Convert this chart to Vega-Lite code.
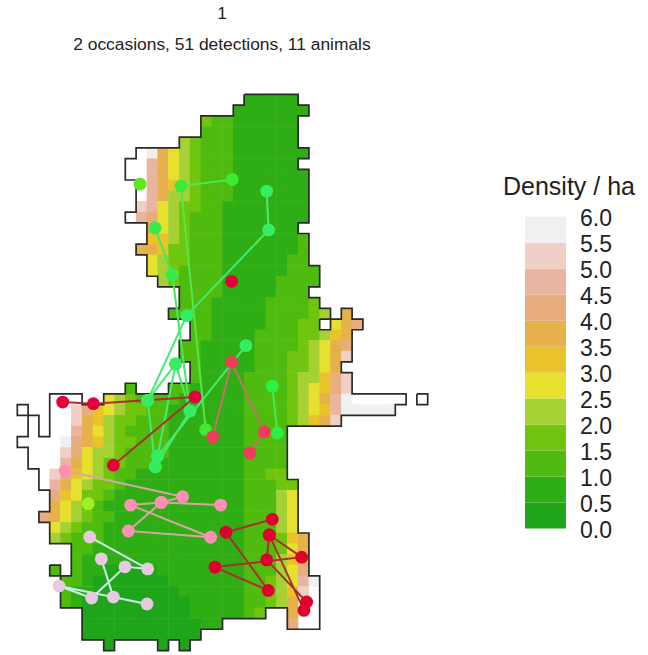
{"$schema":"https://vega.github.io/schema/vega-lite/v6.json","width":648,"height":655,"padding":0,"autosize":{"type":"fit","contains":"padding"},"background":"white","view":{"stroke":null},
"datasets":{
"cells":[
{"c":21,"r":0,"d":0.75},{"c":22,"r":0,"d":0.75},{"c":23,"r":0,"d":0.75},{"c":24,"r":0,"d":0.75},{"c":25,"r":0,"d":0.75},
{"c":20,"r":1,"d":0.75},{"c":21,"r":1,"d":0.75},{"c":22,"r":1,"d":0.75},{"c":23,"r":1,"d":0.75},{"c":24,"r":1,"d":0.75},{"c":25,"r":1,"d":0.75},{"c":26,"r":1,"d":0.75},
{"c":17,"r":2,"d":1.75},{"c":18,"r":2,"d":1.25},{"c":19,"r":2,"d":1.25},{"c":20,"r":2,"d":0.75},{"c":21,"r":2,"d":0.75},{"c":22,"r":2,"d":0.75},{"c":23,"r":2,"d":0.75},{"c":24,"r":2,"d":0.75},{"c":25,"r":2,"d":0.75},
{"c":17,"r":3,"d":1.25},{"c":18,"r":3,"d":1.25},{"c":19,"r":3,"d":1.25},{"c":20,"r":3,"d":0.75},{"c":21,"r":3,"d":0.75},{"c":22,"r":3,"d":0.75},{"c":23,"r":3,"d":0.75},{"c":24,"r":3,"d":0.75},{"c":25,"r":3,"d":0.75},
{"c":15,"r":4,"d":2.25},{"c":16,"r":4,"d":1.75},{"c":17,"r":4,"d":1.25},{"c":18,"r":4,"d":1.25},{"c":19,"r":4,"d":1.25},{"c":20,"r":4,"d":0.75},{"c":21,"r":4,"d":0.75},{"c":22,"r":4,"d":0.75},{"c":23,"r":4,"d":0.75},{"c":24,"r":4,"d":0.75},{"c":25,"r":4,"d":0.75},
{"c":12,"r":5,"d":5.75},{"c":13,"r":5,"d":3.75},{"c":14,"r":5,"d":2.75},{"c":15,"r":5,"d":2.25},{"c":16,"r":5,"d":1.75},{"c":17,"r":5,"d":1.25},{"c":18,"r":5,"d":1.25},{"c":19,"r":5,"d":1.25},{"c":20,"r":5,"d":0.75},{"c":21,"r":5,"d":0.75},{"c":22,"r":5,"d":0.75},{"c":23,"r":5,"d":0.75},{"c":24,"r":5,"d":0.75},{"c":25,"r":5,"d":0.75},{"c":26,"r":5,"d":0.75},
{"c":12,"r":6,"d":4.75},{"c":13,"r":6,"d":3.75},{"c":14,"r":6,"d":2.75},{"c":15,"r":6,"d":2.25},{"c":16,"r":6,"d":1.75},{"c":17,"r":6,"d":1.25},{"c":18,"r":6,"d":1.25},{"c":19,"r":6,"d":1.25},{"c":20,"r":6,"d":0.75},{"c":21,"r":6,"d":0.75},{"c":22,"r":6,"d":0.75},{"c":23,"r":6,"d":0.75},{"c":24,"r":6,"d":0.75},{"c":25,"r":6,"d":0.75},
{"c":12,"r":7,"d":4.75},{"c":13,"r":7,"d":3.75},{"c":14,"r":7,"d":2.75},{"c":15,"r":7,"d":2.25},{"c":16,"r":7,"d":1.75},{"c":17,"r":7,"d":1.25},{"c":18,"r":7,"d":1.25},{"c":19,"r":7,"d":1.25},{"c":20,"r":7,"d":0.75},{"c":21,"r":7,"d":0.75},{"c":22,"r":7,"d":0.75},{"c":23,"r":7,"d":0.75},{"c":24,"r":7,"d":0.75},{"c":25,"r":7,"d":0.75},{"c":26,"r":7,"d":0.75},
{"c":12,"r":8,"d":4.75},{"c":13,"r":8,"d":3.75},{"c":14,"r":8,"d":3.25},{"c":15,"r":8,"d":2.25},{"c":16,"r":8,"d":1.75},{"c":17,"r":8,"d":1.25},{"c":18,"r":8,"d":1.25},{"c":19,"r":8,"d":1.25},{"c":20,"r":8,"d":0.75},{"c":21,"r":8,"d":0.75},{"c":22,"r":8,"d":0.75},{"c":23,"r":8,"d":0.75},{"c":24,"r":8,"d":0.75},{"c":25,"r":8,"d":0.75},{"c":26,"r":8,"d":0.75},
{"c":12,"r":9,"d":4.75},{"c":13,"r":9,"d":3.75},{"c":14,"r":9,"d":2.25},{"c":15,"r":9,"d":2.25},{"c":16,"r":9,"d":1.75},{"c":17,"r":9,"d":1.25},{"c":18,"r":9,"d":1.25},{"c":19,"r":9,"d":1.25},{"c":20,"r":9,"d":0.75},{"c":21,"r":9,"d":0.75},{"c":22,"r":9,"d":0.75},{"c":23,"r":9,"d":0.75},{"c":24,"r":9,"d":0.75},{"c":25,"r":9,"d":0.75},{"c":26,"r":9,"d":0.75},
{"c":11,"r":10,"d":5.25},{"c":12,"r":10,"d":4.75},{"c":13,"r":10,"d":2.75},{"c":14,"r":10,"d":2.25},{"c":15,"r":10,"d":1.75},{"c":16,"r":10,"d":1.75},{"c":17,"r":10,"d":1.25},{"c":18,"r":10,"d":1.25},{"c":19,"r":10,"d":0.75},{"c":20,"r":10,"d":0.75},{"c":21,"r":10,"d":0.75},{"c":22,"r":10,"d":0.75},{"c":23,"r":10,"d":0.75},{"c":24,"r":10,"d":0.75},{"c":25,"r":10,"d":0.75},{"c":26,"r":10,"d":0.75},
{"c":11,"r":11,"d":4.75},{"c":12,"r":11,"d":4.25},{"c":13,"r":11,"d":2.75},{"c":14,"r":11,"d":2.25},{"c":15,"r":11,"d":1.75},{"c":16,"r":11,"d":1.25},{"c":17,"r":11,"d":1.25},{"c":18,"r":11,"d":1.25},{"c":19,"r":11,"d":0.75},{"c":20,"r":11,"d":0.75},{"c":21,"r":11,"d":0.75},{"c":22,"r":11,"d":0.75},{"c":23,"r":11,"d":0.75},{"c":24,"r":11,"d":0.75},{"c":25,"r":11,"d":0.75},{"c":26,"r":11,"d":0.75},
{"c":12,"r":12,"d":3.75},{"c":13,"r":12,"d":2.75},{"c":14,"r":12,"d":2.25},{"c":15,"r":12,"d":1.75},{"c":16,"r":12,"d":1.25},{"c":17,"r":12,"d":1.25},{"c":18,"r":12,"d":1.25},{"c":19,"r":12,"d":0.75},{"c":20,"r":12,"d":0.75},{"c":21,"r":12,"d":0.75},{"c":22,"r":12,"d":0.75},{"c":23,"r":12,"d":0.75},{"c":24,"r":12,"d":0.75},{"c":25,"r":12,"d":0.75},
{"c":12,"r":13,"d":3.25},{"c":13,"r":13,"d":3.25},{"c":14,"r":13,"d":2.25},{"c":15,"r":13,"d":1.75},{"c":16,"r":13,"d":1.25},{"c":17,"r":13,"d":1.25},{"c":18,"r":13,"d":1.25},{"c":19,"r":13,"d":0.75},{"c":20,"r":13,"d":0.75},{"c":21,"r":13,"d":0.75},{"c":22,"r":13,"d":0.75},{"c":23,"r":13,"d":0.75},{"c":24,"r":13,"d":0.75},{"c":25,"r":13,"d":0.75},{"c":26,"r":13,"d":1.25},
{"c":11,"r":14,"d":3.75},{"c":12,"r":14,"d":3.75},{"c":13,"r":14,"d":3.25},{"c":14,"r":14,"d":1.75},{"c":15,"r":14,"d":1.75},{"c":16,"r":14,"d":1.25},{"c":17,"r":14,"d":1.25},{"c":18,"r":14,"d":1.25},{"c":19,"r":14,"d":0.75},{"c":20,"r":14,"d":0.75},{"c":21,"r":14,"d":0.75},{"c":22,"r":14,"d":0.75},{"c":23,"r":14,"d":0.75},{"c":24,"r":14,"d":0.75},{"c":25,"r":14,"d":0.75},{"c":26,"r":14,"d":1.25},
{"c":12,"r":15,"d":2.75},{"c":13,"r":15,"d":2.25},{"c":14,"r":15,"d":1.75},{"c":15,"r":15,"d":1.75},{"c":16,"r":15,"d":1.25},{"c":17,"r":15,"d":1.25},{"c":18,"r":15,"d":1.25},{"c":19,"r":15,"d":0.75},{"c":20,"r":15,"d":0.75},{"c":21,"r":15,"d":0.75},{"c":22,"r":15,"d":0.75},{"c":23,"r":15,"d":0.75},{"c":24,"r":15,"d":0.75},{"c":25,"r":15,"d":1.25},{"c":26,"r":15,"d":1.25},
{"c":12,"r":16,"d":2.75},{"c":13,"r":16,"d":2.25},{"c":14,"r":16,"d":1.75},{"c":15,"r":16,"d":1.25},{"c":16,"r":16,"d":1.25},{"c":17,"r":16,"d":1.25},{"c":18,"r":16,"d":1.25},{"c":19,"r":16,"d":0.75},{"c":20,"r":16,"d":0.75},{"c":21,"r":16,"d":0.75},{"c":22,"r":16,"d":0.75},{"c":23,"r":16,"d":0.75},{"c":24,"r":16,"d":0.75},{"c":25,"r":16,"d":1.25},{"c":26,"r":16,"d":1.25},{"c":27,"r":16,"d":1.25},
{"c":13,"r":17,"d":2.25},{"c":14,"r":17,"d":1.75},{"c":15,"r":17,"d":1.25},{"c":16,"r":17,"d":1.25},{"c":17,"r":17,"d":1.25},{"c":18,"r":17,"d":1.25},{"c":19,"r":17,"d":0.75},{"c":20,"r":17,"d":0.75},{"c":21,"r":17,"d":0.75},{"c":22,"r":17,"d":0.75},{"c":23,"r":17,"d":0.75},{"c":24,"r":17,"d":1.25},{"c":25,"r":17,"d":1.25},{"c":26,"r":17,"d":1.25},{"c":27,"r":17,"d":1.25},
{"c":15,"r":18,"d":1.25},{"c":16,"r":18,"d":1.25},{"c":17,"r":18,"d":1.25},{"c":18,"r":18,"d":1.25},{"c":19,"r":18,"d":0.75},{"c":20,"r":18,"d":0.75},{"c":21,"r":18,"d":0.75},{"c":22,"r":18,"d":0.75},{"c":23,"r":18,"d":0.75},{"c":24,"r":18,"d":1.25},{"c":25,"r":18,"d":1.25},{"c":26,"r":18,"d":1.25},
{"c":15,"r":19,"d":1.25},{"c":16,"r":19,"d":1.25},{"c":17,"r":19,"d":1.25},{"c":18,"r":19,"d":0.75},{"c":19,"r":19,"d":0.75},{"c":20,"r":19,"d":0.75},{"c":21,"r":19,"d":0.75},{"c":22,"r":19,"d":0.75},{"c":23,"r":19,"d":1.25},{"c":24,"r":19,"d":1.25},{"c":25,"r":19,"d":1.25},{"c":26,"r":19,"d":1.25},{"c":27,"r":19,"d":1.75},
{"c":14,"r":20,"d":1.25},{"c":15,"r":20,"d":1.25},{"c":16,"r":20,"d":1.25},{"c":17,"r":20,"d":1.25},{"c":18,"r":20,"d":0.75},{"c":19,"r":20,"d":0.75},{"c":20,"r":20,"d":0.75},{"c":21,"r":20,"d":0.75},{"c":22,"r":20,"d":0.75},{"c":23,"r":20,"d":1.25},{"c":24,"r":20,"d":1.25},{"c":25,"r":20,"d":1.25},{"c":26,"r":20,"d":1.25},{"c":27,"r":20,"d":1.75},{"c":28,"r":20,"d":2.25},{"c":30,"r":20,"d":3.75},
{"c":16,"r":21,"d":1.25},{"c":17,"r":21,"d":1.25},{"c":18,"r":21,"d":0.75},{"c":19,"r":21,"d":0.75},{"c":20,"r":21,"d":0.75},{"c":21,"r":21,"d":0.75},{"c":22,"r":21,"d":0.75},{"c":23,"r":21,"d":1.25},{"c":24,"r":21,"d":1.25},{"c":25,"r":21,"d":1.25},{"c":26,"r":21,"d":1.75},{"c":27,"r":21,"d":1.75},{"c":29,"r":21,"d":2.75},{"c":30,"r":21,"d":3.75},{"c":31,"r":21,"d":4.25},
{"c":16,"r":22,"d":1.25},{"c":17,"r":22,"d":1.25},{"c":18,"r":22,"d":0.75},{"c":19,"r":22,"d":0.75},{"c":20,"r":22,"d":0.75},{"c":21,"r":22,"d":0.75},{"c":22,"r":22,"d":1.25},{"c":23,"r":22,"d":1.25},{"c":24,"r":22,"d":1.25},{"c":25,"r":22,"d":1.25},{"c":26,"r":22,"d":1.75},{"c":27,"r":22,"d":1.75},{"c":28,"r":22,"d":2.25},{"c":29,"r":22,"d":3.25},{"c":30,"r":22,"d":3.75},
{"c":15,"r":23,"d":1.25},{"c":16,"r":23,"d":1.25},{"c":17,"r":23,"d":0.75},{"c":18,"r":23,"d":0.75},{"c":19,"r":23,"d":0.75},{"c":20,"r":23,"d":0.75},{"c":21,"r":23,"d":0.75},{"c":22,"r":23,"d":1.25},{"c":23,"r":23,"d":1.25},{"c":24,"r":23,"d":1.25},{"c":25,"r":23,"d":1.25},{"c":26,"r":23,"d":1.75},{"c":27,"r":23,"d":2.25},{"c":28,"r":23,"d":2.75},{"c":29,"r":23,"d":3.75},{"c":30,"r":23,"d":4.25},
{"c":15,"r":24,"d":1.25},{"c":16,"r":24,"d":1.25},{"c":17,"r":24,"d":0.75},{"c":18,"r":24,"d":0.75},{"c":19,"r":24,"d":0.75},{"c":20,"r":24,"d":0.75},{"c":21,"r":24,"d":0.75},{"c":22,"r":24,"d":1.25},{"c":23,"r":24,"d":1.25},{"c":24,"r":24,"d":1.25},{"c":25,"r":24,"d":1.75},{"c":26,"r":24,"d":1.75},{"c":27,"r":24,"d":2.25},{"c":28,"r":24,"d":2.75},{"c":29,"r":24,"d":3.75},{"c":30,"r":24,"d":5.25},
{"c":16,"r":25,"d":1.25},{"c":17,"r":25,"d":0.75},{"c":18,"r":25,"d":0.75},{"c":19,"r":25,"d":0.75},{"c":20,"r":25,"d":0.75},{"c":21,"r":25,"d":0.75},{"c":22,"r":25,"d":1.25},{"c":23,"r":25,"d":1.25},{"c":24,"r":25,"d":1.25},{"c":25,"r":25,"d":1.75},{"c":26,"r":25,"d":1.75},{"c":27,"r":25,"d":2.25},{"c":28,"r":25,"d":2.75},{"c":29,"r":25,"d":3.75},
{"c":16,"r":26,"d":1.25},{"c":17,"r":26,"d":0.75},{"c":18,"r":26,"d":0.75},{"c":19,"r":26,"d":0.75},{"c":20,"r":26,"d":0.75},{"c":21,"r":26,"d":1.25},{"c":22,"r":26,"d":1.25},{"c":23,"r":26,"d":1.25},{"c":24,"r":26,"d":1.25},{"c":25,"r":26,"d":1.75},{"c":26,"r":26,"d":2.25},{"c":27,"r":26,"d":2.25},{"c":28,"r":26,"d":3.25},{"c":29,"r":26,"d":4.25},{"c":30,"r":26,"d":5.25},
{"c":10,"r":27,"d":1.25},{"c":14,"r":27,"d":1.25},{"c":15,"r":27,"d":1.25},{"c":16,"r":27,"d":0.75},{"c":17,"r":27,"d":0.75},{"c":18,"r":27,"d":0.75},{"c":19,"r":27,"d":0.75},{"c":20,"r":27,"d":0.75},{"c":21,"r":27,"d":1.25},{"c":22,"r":27,"d":1.25},{"c":23,"r":27,"d":1.25},{"c":24,"r":27,"d":1.25},{"c":25,"r":27,"d":1.75},{"c":26,"r":27,"d":2.25},{"c":27,"r":27,"d":2.75},{"c":28,"r":27,"d":3.25},{"c":29,"r":27,"d":4.25},{"c":30,"r":27,"d":5.25},
{"c":8,"r":28,"d":2.75},{"c":9,"r":28,"d":2.25},{"c":10,"r":28,"d":1.75},{"c":11,"r":28,"d":1.25},{"c":12,"r":28,"d":1.25},{"c":13,"r":28,"d":1.25},{"c":14,"r":28,"d":1.25},{"c":15,"r":28,"d":0.75},{"c":16,"r":28,"d":0.75},{"c":17,"r":28,"d":0.75},{"c":18,"r":28,"d":0.75},{"c":19,"r":28,"d":0.75},{"c":20,"r":28,"d":0.75},{"c":21,"r":28,"d":1.25},{"c":22,"r":28,"d":1.25},{"c":23,"r":28,"d":1.25},{"c":24,"r":28,"d":1.25},{"c":25,"r":28,"d":1.75},{"c":26,"r":28,"d":2.25},{"c":27,"r":28,"d":2.75},{"c":28,"r":28,"d":3.75},{"c":29,"r":28,"d":4.75},{"c":30,"r":28,"d":5.75},
{"c":5,"r":29,"d":5.25},{"c":6,"r":29,"d":4.25},{"c":7,"r":29,"d":3.25},{"c":8,"r":29,"d":2.75},{"c":9,"r":29,"d":2.25},{"c":10,"r":29,"d":1.75},{"c":11,"r":29,"d":1.75},{"c":12,"r":29,"d":1.25},{"c":13,"r":29,"d":1.25},{"c":14,"r":29,"d":0.75},{"c":15,"r":29,"d":0.75},{"c":16,"r":29,"d":0.75},{"c":17,"r":29,"d":0.75},{"c":18,"r":29,"d":0.75},{"c":19,"r":29,"d":0.75},{"c":20,"r":29,"d":0.75},{"c":21,"r":29,"d":1.25},{"c":22,"r":29,"d":1.25},{"c":23,"r":29,"d":1.25},{"c":24,"r":29,"d":1.25},{"c":25,"r":29,"d":1.75},{"c":26,"r":29,"d":2.25},{"c":27,"r":29,"d":2.75},{"c":28,"r":29,"d":3.25},{"c":29,"r":29,"d":4.75},{"c":30,"r":29,"d":5.75},{"c":31,"r":29,"d":5.75},{"c":32,"r":29,"d":5.75},{"c":33,"r":29,"d":5.75},{"c":34,"r":29,"d":5.75},
{"c":5,"r":30,"d":5.25},{"c":6,"r":30,"d":3.75},{"c":7,"r":30,"d":3.25},{"c":8,"r":30,"d":2.25},{"c":9,"r":30,"d":1.75},{"c":10,"r":30,"d":1.75},{"c":11,"r":30,"d":1.25},{"c":12,"r":30,"d":1.25},{"c":13,"r":30,"d":1.25},{"c":14,"r":30,"d":0.75},{"c":15,"r":30,"d":0.75},{"c":16,"r":30,"d":0.75},{"c":17,"r":30,"d":0.75},{"c":18,"r":30,"d":0.75},{"c":19,"r":30,"d":0.75},{"c":20,"r":30,"d":0.75},{"c":21,"r":30,"d":1.25},{"c":22,"r":30,"d":1.25},{"c":23,"r":30,"d":1.25},{"c":24,"r":30,"d":1.25},{"c":25,"r":30,"d":1.75},{"c":26,"r":30,"d":2.25},{"c":27,"r":30,"d":3.25},{"c":28,"r":30,"d":3.75},{"c":29,"r":30,"d":5.25},
{"c":5,"r":31,"d":4.75},{"c":6,"r":31,"d":3.75},{"c":7,"r":31,"d":2.75},{"c":8,"r":31,"d":2.25},{"c":9,"r":31,"d":1.75},{"c":10,"r":31,"d":1.25},{"c":11,"r":31,"d":1.25},{"c":12,"r":31,"d":1.25},{"c":13,"r":31,"d":1.25},{"c":14,"r":31,"d":0.75},{"c":15,"r":31,"d":0.75},{"c":16,"r":31,"d":0.75},{"c":17,"r":31,"d":0.75},{"c":18,"r":31,"d":0.75},{"c":19,"r":31,"d":0.75},{"c":20,"r":31,"d":0.75},{"c":21,"r":31,"d":1.25},{"c":22,"r":31,"d":1.25},{"c":23,"r":31,"d":1.25},{"c":24,"r":31,"d":1.25},
{"c":4,"r":32,"d":5.75},{"c":5,"r":32,"d":4.25},{"c":6,"r":32,"d":3.75},{"c":7,"r":32,"d":3.25},{"c":8,"r":32,"d":2.25},{"c":9,"r":32,"d":1.75},{"c":10,"r":32,"d":1.75},{"c":11,"r":32,"d":1.25},{"c":12,"r":32,"d":1.25},{"c":13,"r":32,"d":1.25},{"c":14,"r":32,"d":0.75},{"c":15,"r":32,"d":0.75},{"c":16,"r":32,"d":0.75},{"c":17,"r":32,"d":0.75},{"c":18,"r":32,"d":0.75},{"c":19,"r":32,"d":0.75},{"c":20,"r":32,"d":0.75},{"c":21,"r":32,"d":1.25},{"c":22,"r":32,"d":1.25},{"c":23,"r":32,"d":1.25},{"c":24,"r":32,"d":1.25},
{"c":4,"r":33,"d":5.25},{"c":5,"r":33,"d":4.25},{"c":6,"r":33,"d":2.75},{"c":7,"r":33,"d":2.25},{"c":8,"r":33,"d":2.25},{"c":9,"r":33,"d":1.75},{"c":10,"r":33,"d":1.25},{"c":11,"r":33,"d":1.25},{"c":12,"r":33,"d":1.25},{"c":13,"r":33,"d":1.25},{"c":14,"r":33,"d":0.75},{"c":15,"r":33,"d":0.75},{"c":16,"r":33,"d":0.75},{"c":17,"r":33,"d":0.75},{"c":18,"r":33,"d":0.75},{"c":19,"r":33,"d":0.75},{"c":20,"r":33,"d":0.75},{"c":21,"r":33,"d":1.25},{"c":22,"r":33,"d":1.25},{"c":23,"r":33,"d":1.25},{"c":24,"r":33,"d":1.25},
{"c":4,"r":34,"d":4.75},{"c":5,"r":34,"d":3.75},{"c":6,"r":34,"d":2.75},{"c":7,"r":34,"d":2.25},{"c":8,"r":34,"d":1.75},{"c":9,"r":34,"d":1.75},{"c":10,"r":34,"d":1.25},{"c":11,"r":34,"d":1.25},{"c":12,"r":34,"d":1.25},{"c":13,"r":34,"d":0.75},{"c":14,"r":34,"d":0.75},{"c":15,"r":34,"d":0.75},{"c":16,"r":34,"d":0.75},{"c":17,"r":34,"d":0.75},{"c":18,"r":34,"d":0.75},{"c":19,"r":34,"d":0.75},{"c":20,"r":34,"d":0.75},{"c":21,"r":34,"d":1.25},{"c":22,"r":34,"d":1.25},{"c":23,"r":34,"d":1.25},{"c":24,"r":34,"d":1.25},
{"c":3,"r":35,"d":5.25},{"c":4,"r":35,"d":4.25},{"c":5,"r":35,"d":3.25},{"c":6,"r":35,"d":2.75},{"c":7,"r":35,"d":2.25},{"c":8,"r":35,"d":1.75},{"c":9,"r":35,"d":1.25},{"c":10,"r":35,"d":1.25},{"c":11,"r":35,"d":0.75},{"c":12,"r":35,"d":0.75},{"c":13,"r":35,"d":0.75},{"c":14,"r":35,"d":0.75},{"c":15,"r":35,"d":0.75},{"c":16,"r":35,"d":0.75},{"c":17,"r":35,"d":0.75},{"c":18,"r":35,"d":0.75},{"c":19,"r":35,"d":0.75},{"c":20,"r":35,"d":0.75},{"c":21,"r":35,"d":1.25},{"c":22,"r":35,"d":1.25},{"c":23,"r":35,"d":1.75},{"c":24,"r":35,"d":1.75},
{"c":3,"r":36,"d":4.75},{"c":4,"r":36,"d":3.75},{"c":5,"r":36,"d":2.75},{"c":6,"r":36,"d":2.25},{"c":7,"r":36,"d":1.75},{"c":8,"r":36,"d":1.75},{"c":9,"r":36,"d":1.25},{"c":10,"r":36,"d":0.75},{"c":11,"r":36,"d":0.75},{"c":12,"r":36,"d":0.75},{"c":13,"r":36,"d":0.75},{"c":14,"r":36,"d":0.75},{"c":15,"r":36,"d":0.75},{"c":16,"r":36,"d":0.75},{"c":17,"r":36,"d":0.75},{"c":18,"r":36,"d":0.75},{"c":19,"r":36,"d":0.75},{"c":20,"r":36,"d":0.75},{"c":21,"r":36,"d":1.25},{"c":22,"r":36,"d":1.25},{"c":23,"r":36,"d":1.25},{"c":24,"r":36,"d":1.75},{"c":25,"r":36,"d":1.75},
{"c":3,"r":37,"d":4.25},{"c":4,"r":37,"d":3.25},{"c":5,"r":37,"d":2.75},{"c":6,"r":37,"d":1.75},{"c":7,"r":37,"d":1.75},{"c":8,"r":37,"d":1.25},{"c":9,"r":37,"d":0.75},{"c":10,"r":37,"d":0.75},{"c":11,"r":37,"d":0.75},{"c":12,"r":37,"d":0.75},{"c":13,"r":37,"d":0.75},{"c":14,"r":37,"d":0.75},{"c":15,"r":37,"d":0.75},{"c":16,"r":37,"d":0.75},{"c":17,"r":37,"d":0.75},{"c":18,"r":37,"d":0.75},{"c":19,"r":37,"d":0.75},{"c":20,"r":37,"d":0.75},{"c":21,"r":37,"d":1.25},{"c":22,"r":37,"d":1.25},{"c":23,"r":37,"d":1.25},{"c":24,"r":37,"d":2.25},{"c":25,"r":37,"d":2.75},
{"c":3,"r":38,"d":3.75},{"c":4,"r":38,"d":2.75},{"c":5,"r":38,"d":2.25},{"c":6,"r":38,"d":1.75},{"c":7,"r":38,"d":1.25},{"c":8,"r":38,"d":0.75},{"c":9,"r":38,"d":0.75},{"c":10,"r":38,"d":0.75},{"c":11,"r":38,"d":0.75},{"c":12,"r":38,"d":0.75},{"c":13,"r":38,"d":0.75},{"c":14,"r":38,"d":0.75},{"c":15,"r":38,"d":0.75},{"c":16,"r":38,"d":0.75},{"c":17,"r":38,"d":0.75},{"c":18,"r":38,"d":0.75},{"c":19,"r":38,"d":0.75},{"c":20,"r":38,"d":0.75},{"c":21,"r":38,"d":1.25},{"c":22,"r":38,"d":1.25},{"c":23,"r":38,"d":1.25},{"c":24,"r":38,"d":2.25},{"c":25,"r":38,"d":2.75},
{"c":2,"r":39,"d":4.25},{"c":3,"r":39,"d":3.75},{"c":4,"r":39,"d":2.75},{"c":5,"r":39,"d":2.25},{"c":6,"r":39,"d":1.75},{"c":7,"r":39,"d":1.25},{"c":8,"r":39,"d":1.25},{"c":9,"r":39,"d":0.75},{"c":10,"r":39,"d":0.75},{"c":11,"r":39,"d":0.75},{"c":12,"r":39,"d":0.75},{"c":13,"r":39,"d":0.75},{"c":14,"r":39,"d":0.75},{"c":15,"r":39,"d":0.75},{"c":16,"r":39,"d":0.75},{"c":17,"r":39,"d":0.75},{"c":18,"r":39,"d":0.75},{"c":19,"r":39,"d":0.75},{"c":20,"r":39,"d":0.75},{"c":21,"r":39,"d":1.25},{"c":22,"r":39,"d":1.25},{"c":23,"r":39,"d":1.25},{"c":24,"r":39,"d":2.25},{"c":25,"r":39,"d":2.75},
{"c":3,"r":40,"d":2.75},{"c":4,"r":40,"d":2.25},{"c":5,"r":40,"d":1.75},{"c":6,"r":40,"d":1.25},{"c":7,"r":40,"d":1.25},{"c":8,"r":40,"d":0.75},{"c":9,"r":40,"d":0.75},{"c":10,"r":40,"d":0.75},{"c":11,"r":40,"d":0.75},{"c":12,"r":40,"d":0.75},{"c":13,"r":40,"d":0.75},{"c":14,"r":40,"d":0.75},{"c":15,"r":40,"d":0.75},{"c":16,"r":40,"d":0.75},{"c":17,"r":40,"d":0.75},{"c":18,"r":40,"d":0.75},{"c":19,"r":40,"d":0.75},{"c":20,"r":40,"d":0.75},{"c":21,"r":40,"d":1.25},{"c":22,"r":40,"d":1.25},{"c":23,"r":40,"d":1.25},{"c":24,"r":40,"d":2.25},{"c":25,"r":40,"d":2.75},
{"c":3,"r":41,"d":2.25},{"c":4,"r":41,"d":1.75},{"c":5,"r":41,"d":1.25},{"c":6,"r":41,"d":1.25},{"c":7,"r":41,"d":1.25},{"c":8,"r":41,"d":0.75},{"c":9,"r":41,"d":0.75},{"c":10,"r":41,"d":0.75},{"c":11,"r":41,"d":0.75},{"c":12,"r":41,"d":0.75},{"c":13,"r":41,"d":0.75},{"c":14,"r":41,"d":0.75},{"c":15,"r":41,"d":0.75},{"c":16,"r":41,"d":0.75},{"c":17,"r":41,"d":0.75},{"c":18,"r":41,"d":0.75},{"c":19,"r":41,"d":0.75},{"c":20,"r":41,"d":0.75},{"c":21,"r":41,"d":1.25},{"c":22,"r":41,"d":1.25},{"c":23,"r":41,"d":1.25},{"c":24,"r":41,"d":1.75},{"c":25,"r":41,"d":3.25},{"c":26,"r":41,"d":3.75},
{"c":5,"r":42,"d":1.25},{"c":6,"r":42,"d":1.25},{"c":7,"r":42,"d":0.75},{"c":8,"r":42,"d":0.75},{"c":9,"r":42,"d":0.75},{"c":10,"r":42,"d":0.75},{"c":11,"r":42,"d":0.75},{"c":12,"r":42,"d":0.75},{"c":13,"r":42,"d":0.75},{"c":14,"r":42,"d":0.75},{"c":15,"r":42,"d":0.75},{"c":16,"r":42,"d":0.75},{"c":17,"r":42,"d":0.75},{"c":18,"r":42,"d":0.75},{"c":19,"r":42,"d":0.75},{"c":20,"r":42,"d":0.75},{"c":21,"r":42,"d":1.25},{"c":22,"r":42,"d":1.25},{"c":23,"r":42,"d":1.25},{"c":24,"r":42,"d":1.75},{"c":25,"r":42,"d":2.75},{"c":26,"r":42,"d":3.75},
{"c":5,"r":43,"d":1.25},{"c":6,"r":43,"d":0.75},{"c":7,"r":43,"d":0.75},{"c":8,"r":43,"d":0.75},{"c":9,"r":43,"d":0.75},{"c":10,"r":43,"d":0.75},{"c":11,"r":43,"d":0.75},{"c":12,"r":43,"d":0.75},{"c":13,"r":43,"d":0.75},{"c":14,"r":43,"d":0.75},{"c":15,"r":43,"d":0.75},{"c":16,"r":43,"d":0.75},{"c":17,"r":43,"d":0.75},{"c":18,"r":43,"d":0.75},{"c":19,"r":43,"d":0.75},{"c":20,"r":43,"d":0.75},{"c":21,"r":43,"d":1.25},{"c":22,"r":43,"d":1.25},{"c":23,"r":43,"d":1.25},{"c":24,"r":43,"d":2.25},{"c":25,"r":43,"d":3.25},{"c":26,"r":43,"d":3.75},
{"c":3,"r":44,"d":1.25},{"c":5,"r":44,"d":1.25},{"c":6,"r":44,"d":0.75},{"c":7,"r":44,"d":0.75},{"c":8,"r":44,"d":0.25},{"c":9,"r":44,"d":0.25},{"c":10,"r":44,"d":0.25},{"c":11,"r":44,"d":0.25},{"c":12,"r":44,"d":0.25},{"c":13,"r":44,"d":0.75},{"c":14,"r":44,"d":0.75},{"c":15,"r":44,"d":0.75},{"c":16,"r":44,"d":0.75},{"c":17,"r":44,"d":0.75},{"c":18,"r":44,"d":0.75},{"c":19,"r":44,"d":0.75},{"c":20,"r":44,"d":0.75},{"c":21,"r":44,"d":1.25},{"c":22,"r":44,"d":1.25},{"c":23,"r":44,"d":1.25},{"c":24,"r":44,"d":2.25},{"c":25,"r":44,"d":2.75},{"c":26,"r":44,"d":4.25},
{"c":4,"r":45,"d":1.25},{"c":5,"r":45,"d":1.25},{"c":6,"r":45,"d":0.75},{"c":7,"r":45,"d":0.25},{"c":8,"r":45,"d":0.25},{"c":9,"r":45,"d":0.25},{"c":10,"r":45,"d":0.25},{"c":11,"r":45,"d":0.25},{"c":12,"r":45,"d":0.25},{"c":13,"r":45,"d":0.25},{"c":14,"r":45,"d":0.75},{"c":15,"r":45,"d":0.75},{"c":16,"r":45,"d":0.75},{"c":17,"r":45,"d":0.75},{"c":18,"r":45,"d":0.75},{"c":19,"r":45,"d":0.75},{"c":20,"r":45,"d":0.75},{"c":21,"r":45,"d":1.25},{"c":22,"r":45,"d":1.25},{"c":23,"r":45,"d":1.75},{"c":24,"r":45,"d":2.25},{"c":25,"r":45,"d":2.75},{"c":26,"r":45,"d":4.75},{"c":27,"r":45,"d":5.75},
{"c":4,"r":46,"d":1.25},{"c":5,"r":46,"d":0.75},{"c":6,"r":46,"d":0.75},{"c":7,"r":46,"d":0.25},{"c":8,"r":46,"d":0.25},{"c":9,"r":46,"d":0.25},{"c":10,"r":46,"d":0.25},{"c":11,"r":46,"d":0.25},{"c":12,"r":46,"d":0.25},{"c":13,"r":46,"d":0.25},{"c":14,"r":46,"d":0.25},{"c":15,"r":46,"d":0.75},{"c":16,"r":46,"d":0.75},{"c":17,"r":46,"d":0.75},{"c":18,"r":46,"d":0.75},{"c":19,"r":46,"d":0.75},{"c":20,"r":46,"d":0.75},{"c":21,"r":46,"d":1.25},{"c":22,"r":46,"d":1.25},{"c":23,"r":46,"d":1.75},{"c":24,"r":46,"d":2.25},{"c":25,"r":46,"d":3.25},{"c":26,"r":46,"d":5.25},
{"c":4,"r":47,"d":1.25},{"c":5,"r":47,"d":0.75},{"c":6,"r":47,"d":0.25},{"c":7,"r":47,"d":0.25},{"c":8,"r":47,"d":0.25},{"c":9,"r":47,"d":0.25},{"c":10,"r":47,"d":0.25},{"c":11,"r":47,"d":0.25},{"c":12,"r":47,"d":0.25},{"c":13,"r":47,"d":0.25},{"c":14,"r":47,"d":0.25},{"c":15,"r":47,"d":0.25},{"c":16,"r":47,"d":0.75},{"c":17,"r":47,"d":0.75},{"c":18,"r":47,"d":0.75},{"c":19,"r":47,"d":0.75},{"c":20,"r":47,"d":0.75},{"c":21,"r":47,"d":1.25},{"c":22,"r":47,"d":1.25},{"c":23,"r":47,"d":1.75},{"c":24,"r":47,"d":2.25},{"c":25,"r":47,"d":3.75},
{"c":6,"r":48,"d":0.25},{"c":7,"r":48,"d":0.25},{"c":8,"r":48,"d":0.25},{"c":9,"r":48,"d":0.25},{"c":10,"r":48,"d":0.25},{"c":11,"r":48,"d":0.25},{"c":12,"r":48,"d":0.25},{"c":13,"r":48,"d":0.25},{"c":14,"r":48,"d":0.25},{"c":15,"r":48,"d":0.25},{"c":16,"r":48,"d":0.75},{"c":17,"r":48,"d":0.75},{"c":18,"r":48,"d":0.75},{"c":19,"r":48,"d":0.75},{"c":20,"r":48,"d":0.75},{"c":21,"r":48,"d":1.25},{"c":22,"r":48,"d":1.75},{"c":25,"r":48,"d":3.75},
{"c":6,"r":49,"d":0.25},{"c":7,"r":49,"d":0.25},{"c":8,"r":49,"d":0.25},{"c":9,"r":49,"d":0.25},{"c":10,"r":49,"d":0.25},{"c":11,"r":49,"d":0.25},{"c":12,"r":49,"d":0.25},{"c":13,"r":49,"d":0.25},{"c":14,"r":49,"d":0.25},{"c":15,"r":49,"d":0.25},{"c":16,"r":49,"d":0.25},{"c":17,"r":49,"d":0.75},{"c":18,"r":49,"d":0.75},{"c":25,"r":49,"d":4.25},
{"c":6,"r":50,"d":0.25},{"c":7,"r":50,"d":0.25},{"c":8,"r":50,"d":0.25},{"c":9,"r":50,"d":0.25},{"c":10,"r":50,"d":0.25},{"c":11,"r":50,"d":0.25},{"c":12,"r":50,"d":0.25},{"c":13,"r":50,"d":0.25},{"c":14,"r":50,"d":0.25},{"c":15,"r":50,"d":0.25},{"c":16,"r":50,"d":0.25},
{"c":8,"r":51,"d":0.25},{"c":13,"r":51,"d":0.25},{"c":15,"r":51,"d":0.25}
],
"outline":[
{"p":"a","o":0,"c":20.5,"r":-0.5},{"p":"a","o":1,"c":25.5,"r":-0.5},{"p":"a","o":2,"c":25.5,"r":0.5},{"p":"a","o":3,"c":26.5,"r":0.5},{"p":"a","o":4,"c":26.5,"r":1.5},{"p":"a","o":5,"c":25.5,"r":1.5},{"p":"a","o":6,"c":25.5,"r":4.5},{"p":"a","o":7,"c":26.5,"r":4.5},{"p":"a","o":8,"c":26.5,"r":5.5},{"p":"a","o":9,"c":25.5,"r":5.5},{"p":"a","o":10,"c":25.5,"r":6.5},{"p":"a","o":11,"c":26.5,"r":6.5},{"p":"a","o":12,"c":26.5,"r":11.5},{"p":"a","o":13,"c":25.5,"r":11.5},{"p":"a","o":14,"c":25.5,"r":12.5},{"p":"a","o":15,"c":26.5,"r":12.5},{"p":"a","o":16,"c":26.5,"r":15.5},{"p":"a","o":17,"c":27.5,"r":15.5},{"p":"a","o":18,"c":27.5,"r":17.5},{"p":"a","o":19,"c":26.5,"r":17.5},{"p":"a","o":20,"c":26.5,"r":18.5},{"p":"a","o":21,"c":27.5,"r":18.5},{"p":"a","o":22,"c":27.5,"r":19.5},{"p":"a","o":23,"c":28.5,"r":19.5},{"p":"a","o":24,"c":28.5,"r":20.5},{"p":"a","o":25,"c":29.5,"r":20.5},{"p":"a","o":26,"c":29.5,"r":19.5},{"p":"a","o":27,"c":30.5,"r":19.5},{"p":"a","o":28,"c":30.5,"r":20.5},{"p":"a","o":29,"c":31.5,"r":20.5},{"p":"a","o":30,"c":31.5,"r":21.5},{"p":"a","o":31,"c":30.5,"r":21.5},{"p":"a","o":32,"c":30.5,"r":24.5},{"p":"a","o":33,"c":29.5,"r":24.5},{"p":"a","o":34,"c":29.5,"r":25.5},{"p":"a","o":35,"c":30.5,"r":25.5},{"p":"a","o":36,"c":30.5,"r":27.5},{"p":"a","o":37,"c":35.5,"r":27.5},{"p":"a","o":38,"c":35.5,"r":28.5},{"p":"a","o":39,"c":34.5,"r":28.5},{"p":"a","o":40,"c":34.5,"r":29.5},{"p":"a","o":41,"c":29.5,"r":29.5},{"p":"a","o":42,"c":29.5,"r":30.5},{"p":"a","o":43,"c":24.5,"r":30.5},{"p":"a","o":44,"c":24.5,"r":35.5},{"p":"a","o":45,"c":25.5,"r":35.5},{"p":"a","o":46,"c":25.5,"r":40.5},{"p":"a","o":47,"c":26.5,"r":40.5},{"p":"a","o":48,"c":26.5,"r":44.5},{"p":"a","o":49,"c":27.5,"r":44.5},{"p":"a","o":50,"c":27.5,"r":49.5},{"p":"a","o":51,"c":24.5,"r":49.5},{"p":"a","o":52,"c":24.5,"r":47.5},{"p":"a","o":53,"c":22.5,"r":47.5},{"p":"a","o":54,"c":22.5,"r":48.5},{"p":"a","o":55,"c":18.5,"r":48.5},{"p":"a","o":56,"c":18.5,"r":49.5},{"p":"a","o":57,"c":16.5,"r":49.5},{"p":"a","o":58,"c":16.5,"r":50.5},{"p":"a","o":59,"c":15.5,"r":50.5},{"p":"a","o":60,"c":15.5,"r":51.5},{"p":"a","o":61,"c":14.5,"r":51.5},{"p":"a","o":62,"c":14.5,"r":50.5},{"p":"a","o":63,"c":13.5,"r":50.5},{"p":"a","o":64,"c":13.5,"r":51.5},{"p":"a","o":65,"c":12.5,"r":51.5},{"p":"a","o":66,"c":12.5,"r":50.5},{"p":"a","o":67,"c":8.5,"r":50.5},{"p":"a","o":68,"c":8.5,"r":51.5},{"p":"a","o":69,"c":7.5,"r":51.5},{"p":"a","o":70,"c":7.5,"r":50.5},{"p":"a","o":71,"c":5.5,"r":50.5},{"p":"a","o":72,"c":5.5,"r":47.5},{"p":"a","o":73,"c":3.5,"r":47.5},{"p":"a","o":74,"c":3.5,"r":44.5},{"p":"a","o":75,"c":4.5,"r":44.5},{"p":"a","o":76,"c":4.5,"r":41.5},{"p":"a","o":77,"c":2.5,"r":41.5},{"p":"a","o":78,"c":2.5,"r":39.5},{"p":"a","o":79,"c":1.5,"r":39.5},{"p":"a","o":80,"c":1.5,"r":38.5},{"p":"a","o":81,"c":2.5,"r":38.5},{"p":"a","o":82,"c":2.5,"r":36.5},{"p":"a","o":83,"c":1.5,"r":36.5},{"p":"a","o":84,"c":1.5,"r":34.5},{"p":"a","o":85,"c":0.5,"r":34.5},{"p":"a","o":86,"c":0.5,"r":32.5},{"p":"a","o":87,"c":-0.5,"r":32.5},{"p":"a","o":88,"c":-0.5,"r":31.5},{"p":"a","o":89,"c":0.5,"r":31.5},{"p":"a","o":90,"c":0.5,"r":29.5},{"p":"a","o":91,"c":-0.5,"r":29.5},{"p":"a","o":92,"c":-0.5,"r":28.5},{"p":"a","o":93,"c":0.5,"r":28.5},{"p":"a","o":94,"c":0.5,"r":29.5},{"p":"a","o":95,"c":1.5,"r":29.5},{"p":"a","o":96,"c":1.5,"r":31.5},{"p":"a","o":97,"c":2.5,"r":31.5},{"p":"a","o":98,"c":2.5,"r":27.5},{"p":"a","o":99,"c":5.5,"r":27.5},{"p":"a","o":100,"c":5.5,"r":28.5},{"p":"a","o":101,"c":7.5,"r":28.5},{"p":"a","o":102,"c":7.5,"r":27.5},{"p":"a","o":103,"c":9.5,"r":27.5},{"p":"a","o":104,"c":9.5,"r":26.5},{"p":"a","o":105,"c":10.5,"r":26.5},{"p":"a","o":106,"c":10.5,"r":27.5},{"p":"a","o":107,"c":13.5,"r":27.5},{"p":"a","o":108,"c":13.5,"r":26.5},{"p":"a","o":109,"c":15.5,"r":26.5},{"p":"a","o":110,"c":15.5,"r":24.5},{"p":"a","o":111,"c":14.5,"r":24.5},{"p":"a","o":112,"c":14.5,"r":22.5},{"p":"a","o":113,"c":15.5,"r":22.5},{"p":"a","o":114,"c":15.5,"r":20.5},{"p":"a","o":115,"c":13.5,"r":20.5},{"p":"a","o":116,"c":13.5,"r":19.5},{"p":"a","o":117,"c":14.5,"r":19.5},{"p":"a","o":118,"c":14.5,"r":17.5},{"p":"a","o":119,"c":12.5,"r":17.5},{"p":"a","o":120,"c":12.5,"r":16.5},{"p":"a","o":121,"c":11.5,"r":16.5},{"p":"a","o":122,"c":11.5,"r":14.5},{"p":"a","o":123,"c":10.5,"r":14.5},{"p":"a","o":124,"c":10.5,"r":13.5},{"p":"a","o":125,"c":11.5,"r":13.5},{"p":"a","o":126,"c":11.5,"r":11.5},{"p":"a","o":127,"c":9.5,"r":11.5},{"p":"a","o":128,"c":9.5,"r":10.5},{"p":"a","o":129,"c":10.5,"r":10.5},{"p":"a","o":130,"c":10.5,"r":7.5},{"p":"a","o":131,"c":9.5,"r":7.5},{"p":"a","o":132,"c":9.5,"r":5.5},{"p":"a","o":133,"c":10.5,"r":5.5},{"p":"a","o":134,"c":10.5,"r":4.5},{"p":"a","o":135,"c":14.5,"r":4.5},{"p":"a","o":136,"c":14.5,"r":3.5},{"p":"a","o":137,"c":16.5,"r":3.5},{"p":"a","o":138,"c":16.5,"r":1.5},{"p":"a","o":139,"c":19.5,"r":1.5},{"p":"a","o":140,"c":19.5,"r":0.5},{"p":"a","o":141,"c":20.5,"r":0.5},{"p":"a","o":142,"c":20.5,"r":-0.5},
{"p":"b","o":0,"c":27.5,"r":20.5},{"p":"b","o":1,"c":28.5,"r":20.5},{"p":"b","o":2,"c":28.5,"r":21.5},{"p":"b","o":3,"c":27.5,"r":21.5},{"p":"b","o":4,"c":27.5,"r":20.5},
{"p":"c","o":0,"c":36.5,"r":27.5},{"p":"c","o":1,"c":37.5,"r":27.5},{"p":"c","o":2,"c":37.5,"r":28.5},{"p":"c","o":3,"c":36.5,"r":28.5},{"p":"c","o":4,"c":36.5,"r":27.5},
{"p":"d","o":0,"c":2.5,"r":43.5},{"p":"d","o":1,"c":3.5,"r":43.5},{"p":"d","o":2,"c":3.5,"r":44.5},{"p":"d","o":3,"c":2.5,"r":44.5},{"p":"d","o":4,"c":2.5,"r":43.5}
],
"tracks":[
{"id":"lime","o":0,"c":10.86,"r":7.89},
{"id":"ga","o":0,"c":19.41,"r":7.45},{"id":"ga","o":1,"c":14.65,"r":8.07},{"id":"ga","o":2,"c":16.94,"r":30.84},
{"id":"gb","o":0,"c":22.59,"r":8.54},{"id":"gb","o":1,"c":22.77,"r":12.17},{"id":"gb","o":2,"c":15.18,"r":20.18},{"id":"gb","o":3,"c":11.57,"r":28.1},{"id":"gb","o":4,"c":12.28,"r":34.31},
{"id":"gc","o":0,"c":12.25,"r":11.98},{"id":"gc","o":1,"c":13.85,"r":16.36},{"id":"gc","o":2,"c":15.49,"r":29.1},
{"id":"gd","o":0,"c":11.57,"r":28.1},{"id":"gd","o":1,"c":14.16,"r":24.69},{"id":"gd","o":2,"c":15.49,"r":29.1},{"id":"gd","o":3,"c":12.28,"r":34.31},
{"id":"ge","o":0,"c":20.67,"r":22.98},{"id":"ge","o":1,"c":12.49,"r":33.32},
{"id":"gg","o":0,"c":14.16,"r":24.69},{"id":"gg","o":1,"c":12.49,"r":33.32},
{"id":"gf","o":0,"c":23.11,"r":26.77},{"id":"gf","o":1,"c":23.57,"r":31.15},
{"id":"yg","o":0,"c":6.07,"r":37.76},
{"id":"r1","o":0,"c":19.35,"r":16.98},
{"id":"r2","o":0,"c":3.7,"r":28.26},{"id":"r2","o":1,"c":6.54,"r":28.41},{"id":"r2","o":2,"c":15.95,"r":27.79},{"id":"r2","o":3,"c":8.39,"r":34.16},
{"id":"r3","o":0,"c":17.59,"r":31.52},{"id":"r3","o":1,"c":19.35,"r":24.53},{"id":"r3","o":2,"c":22.37,"r":31.05},{"id":"r3","o":3,"c":21.04,"r":33.01},
{"id":"r4","o":0,"c":23.11,"r":39.22},{"id":"r4","o":1,"c":18.82,"r":40.43},{"id":"r4","o":2,"c":22.74,"r":45.87},{"id":"r4","o":3,"c":17.8,"r":43.69},{"id":"r4","o":4,"c":25.83,"r":42.76},{"id":"r4","o":5,"c":22.83,"r":40.68},{"id":"r4","o":6,"c":22.59,"r":43.01},{"id":"r4","o":7,"c":26.29,"r":46.95},{"id":"r4","o":8,"c":26.04,"r":47.73},{"id":"r4","o":9,"c":22.83,"r":40.68},
{"id":"pk","o":0,"c":3.91,"r":34.69},{"id":"pk","o":1,"c":14.81,"r":37.11},{"id":"pk","o":2,"c":12.83,"r":37.64},{"id":"pk","o":3,"c":9.99,"r":37.89},{"id":"pk","o":4,"c":17.4,"r":40.9},{"id":"pk","o":5,"c":9.78,"r":40.31},{"id":"pk","o":6,"c":12.83,"r":37.64},{"id":"pk","o":7,"c":18.33,"r":37.89},
{"id":"li","o":0,"c":6.2,"r":40.87},{"id":"li","o":1,"c":11.57,"r":43.85},{"id":"li","o":2,"c":9.47,"r":43.66},{"id":"li","o":3,"c":6.38,"r":46.58},{"id":"li","o":4,"c":3.36,"r":45.46},{"id":"li","o":5,"c":11.51,"r":47.14},{"id":"li","o":6,"c":8.39,"r":46.49},{"id":"li","o":7,"c":7.28,"r":42.92}
],
"legend":[
{"d":0.25,"c":46.51,"c2":50.3,"r":37.65,"r2":40.09},{"d":0.75,"c":46.51,"c2":50.3,"r":35.23,"r2":37.65},{"d":1.25,"c":46.51,"c2":50.3,"r":32.8,"r2":35.23},{"d":1.75,"c":46.51,"c2":50.3,"r":30.37,"r2":32.8},{"d":2.25,"c":46.51,"c2":50.3,"r":27.93,"r2":30.37},{"d":2.75,"c":46.51,"c2":50.3,"r":25.51,"r2":27.93},{"d":3.25,"c":46.51,"c2":50.3,"r":23.08,"r2":25.51},{"d":3.75,"c":46.51,"c2":50.3,"r":20.65,"r2":23.08},{"d":4.25,"c":46.51,"c2":50.3,"r":18.22,"r2":20.65},{"d":4.75,"c":46.51,"c2":50.3,"r":15.79,"r2":18.22},{"d":5.25,"c":46.51,"c2":50.3,"r":13.36,"r2":15.79},{"d":5.75,"c":46.51,"c2":50.3,"r":10.93,"r2":13.36}
],
"ticks":[
{"t":"0.0","c":51.6,"r":40.33},{"t":"0.5","c":51.6,"r":37.9},{"t":"1.0","c":51.6,"r":35.47},{"t":"1.5","c":51.6,"r":33.05},{"t":"2.0","c":51.6,"r":30.62},{"t":"2.5","c":51.6,"r":28.18},{"t":"3.0","c":51.6,"r":25.76},{"t":"3.5","c":51.6,"r":23.33},{"t":"4.0","c":51.6,"r":20.9},{"t":"4.5","c":51.6,"r":18.47},{"t":"5.0","c":51.6,"r":16.04},{"t":"5.5","c":51.6,"r":13.6},{"t":"6.0","c":51.6,"r":11.17}
],
"ltitle":[{"t":"Density / ha","c":50.58,"r":8.15}],
"titles":[{"t":"1","c":18.45,"r":-8.0},{"t":"2 occasions, 51 detections, 11 animals","c":18.45,"r":-5.13}]
},
"encoding":{
"x":{"field":"c","type":"quantitative","scale":{"domain":[-2.102,57.898],"nice":false,"zero":false},"axis":null},
"y":{"field":"r","type":"quantitative","scale":{"domain":[-9.326,51.718],"nice":false,"zero":false,"reverse":true},"axis":null}
},
"layer":[
{"data":{"name":"cells"},"mark":{"type":"rect","width":11.3,"height":11.2},
"encoding":{"color":{"field":"d","type":"quantitative","legend":null,"scale":{"type":"threshold","domain":[0.5,1,1.5,2,2.5,3,3.5,4,4.5,5,5.5],"range":["#1FA51A","#2EAD15","#4EBB0E","#70C50F","#A6D135","#E6E12E","#E8C42A","#E6B04A","#E7AD7C","#EAB5A0","#EFCFC6","#EFF0F1"]}}}},
{"data":{"name":"outline"},"mark":{"type":"line","stroke":"#2a2a2a","strokeWidth":1.7,"strokeJoin":"miter","interpolate":"linear"},
"encoding":{"detail":{"field":"p"},"order":{"field":"o","type":"quantitative"}}},
{"data":{"name":"tracks"},"mark":{"type":"line","strokeWidth":2,"interpolate":"linear"},
"encoding":{"stroke":{"field":"id","type":"nominal","legend":null,"scale":{"domain":["lime","ga","gb","gc","gd","ge","gg","gf","yg","r1","r2","r3","r4","pk","li"],"range":["#5FE820","#50E84A","#45EA70","#48E85E","#45EA70","#45EA70","#45EA70","#3CEE54","#A0EE25","#E6003A","#A8322A","#BF7562","#A8322A","#D4A8A0","#C8F0E8"]}},"order":{"field":"o","type":"quantitative"}}},
{"data":{"name":"tracks"},"mark":{"type":"circle","size":165,"opacity":1},
"encoding":{"fill":{"field":"id","type":"nominal","legend":null,"scale":{"domain":["lime","ga","gb","gc","gd","ge","gg","gf","yg","r1","r2","r3","r4","pk","li"],"range":["#5FE820","#3EEA35","#35EE62","#38EA4E","#35EC60","#35EE60","#35EE60","#2EF044","#A0EE25","#E6003A","#E4003C","#F23A5A","#E0002E","#FF90B5","#E8C9E2"]}}}},
{"data":{"name":"legend"},"mark":{"type":"rect"},
"encoding":{"x2":{"field":"c2"},"y2":{"field":"r2"},"color":{"field":"d","type":"quantitative","legend":null,"scale":{"type":"threshold","domain":[0.5,1,1.5,2,2.5,3,3.5,4,4.5,5,5.5],"range":["#1FA51A","#2EAD15","#4EBB0E","#70C50F","#A6D135","#E6E12E","#E8C42A","#E6B04A","#E7AD7C","#EAB5A0","#EFCFC6","#EFF0F1"]}}}},
{"data":{"name":"ticks"},"mark":{"type":"text","align":"left","baseline":"middle","font":"Liberation Sans","fontSize":23,"fill":"#222222"},"encoding":{"text":{"field":"t"}}},
{"data":{"name":"ltitle"},"mark":{"type":"text","align":"center","baseline":"middle","font":"Liberation Sans","fontSize":25,"fill":"#222222"},"encoding":{"text":{"field":"t"}}},
{"data":{"name":"titles"},"mark":{"type":"text","align":"center","baseline":"middle","font":"Liberation Sans","fontSize":17.4,"fill":"#222222"},"encoding":{"text":{"field":"t"}}}
]}
